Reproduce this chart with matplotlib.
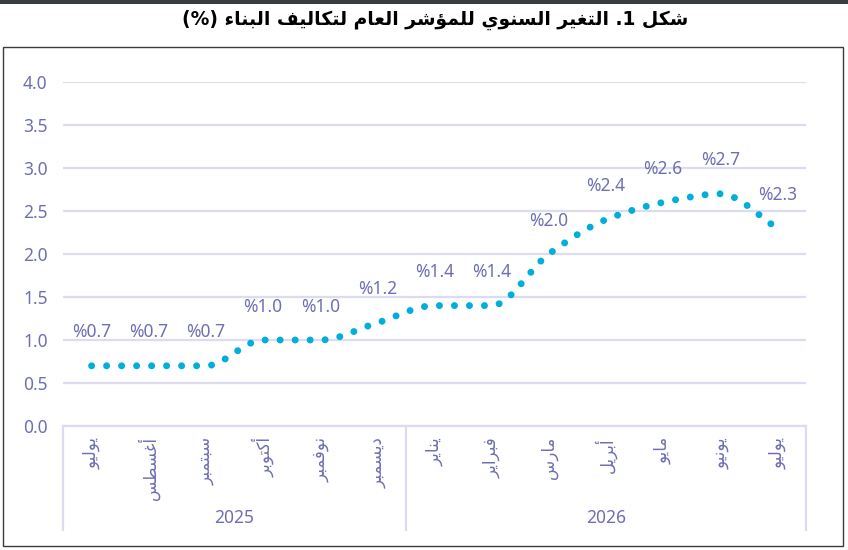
import matplotlib
matplotlib.use("Agg")
import matplotlib.pyplot as plt
from matplotlib.path import Path
from matplotlib.patches import PathPatch, Rectangle
from matplotlib.lines import Line2D

# data
months = ["يوليو", "أغسطس", "سبتمبر", "أكتوبر", "نوفمبر", "ديسمبر",
          "يناير", "فبراير", "مارس", "أبريل", "مايو", "يونيو", "يوليو"]
years = ["2025", "2026"]
year_counts = [6, 7]
values = [0.7, 0.7, 0.7, 1.0, 1.0, 1.2, 1.4, 1.4, 2.0, 2.4, 2.6, 2.7, 2.3]
yticks = [0.0, 0.5, 1.0, 1.5, 2.0, 2.5, 3.0, 3.5, 4.0]
title = "شكل 1. التغير السنوي للمؤشر العام لتكاليف البناء (%)"

LINE = "#00AEDB"
TXT = "#6E6EB5"
GRID = "#DCDCF0"
NUMFONT = ["Noto Sans", "DejaVu Sans"]

# matplotlib does no arabic shaping, so map letters to presentation forms
# (isolated, final, initial, medial) and flip to visual order
letters = "ءآأؤإئابةتثجحخدذرزسشصضطظعغفقكلمنهوىي"
counts = [1, 2, 2, 2, 2, 4, 2, 4, 2, 4, 4, 4, 4, 4, 2, 2, 2, 2, 4, 4,
          4, 4, 4, 4, 4, 4, 4, 4, 4, 4, 4, 4, 4, 2, 2, 4]
FORMS = {}
code = 0xFE80
for ch, k in zip(letters, counts):
    FORMS[ch] = [chr(code + j) for j in range(k)]
    code += k


def ar(text):
    out = []
    n = len(text)
    for i, c in enumerate(text):
        if c not in FORMS:
            out.append(c)
            continue
        f = FORMS[c]
        prev = text[i - 1] if i > 0 else ""
        nxt = text[i + 1] if i + 1 < n else ""
        jp = len(f) > 1 and prev in FORMS and len(FORMS[prev]) == 4
        jn = len(f) == 4 and nxt in FORMS and len(FORMS[nxt]) > 1
        if jp and jn:
            out.append(f[3])
        elif jp:
            out.append(f[1])
        elif jn:
            out.append(f[2])
        else:
            out.append(f[0])
    s = "".join(out)[::-1]
    return s.translate(str.maketrans("()", ")("))


fig = plt.figure(figsize=(8.48, 5.5), dpi=100)
ax = fig.add_axes([63 / 848, 1 - 426 / 550, 743 / 848, 344 / 550])

x = list(range(len(values)))
n = len(values)

# smoothed line through the points (monotone tangents, so flat runs stay flat)
sec = [values[i + 1] - values[i] for i in range(n - 1)]
tang = [sec[0]]
for i in range(1, n - 1):
    a, b = sec[i - 1], sec[i]
    tang.append(0.0 if a * b <= 0 else 2 * a * b / (a + b))
tang.append(sec[-1])

verts = [(x[0], values[0])]
codes = [Path.MOVETO]
for i in range(n - 1):
    verts += [(x[i] + 1 / 3, values[i] + tang[i] / 3),
              (x[i + 1] - 1 / 3, values[i + 1] - tang[i + 1] / 3),
              (x[i + 1], values[i + 1])]
    codes += [Path.CURVE4] * 3
curve = PathPatch(Path(verts, codes), fill=False, edgecolor=LINE, lw=5.0,
                  linestyle=(0, (0.01, 2.15)), capstyle="round", zorder=3)
ax.add_patch(curve)

for xi, v in zip(x, values):
    ax.annotate("%" + f"{v:.1f}", (xi, v), xytext=(0, 24),
                textcoords="offset points", ha="center", va="center",
                fontsize=12.5, color=TXT, family=NUMFONT)

ax.set_xlim(-0.5, n - 0.5)
ax.set_ylim(0, 4.0)
ax.set_yticks(yticks)
ax.set_yticklabels([f"{t:.1f}" for t in yticks], fontsize=12.5, color=TXT,
                   family=NUMFONT)
ax.tick_params(axis="y", length=0, pad=11)
ax.set_xticks([])
for s in ax.spines.values():
    s.set_visible(False)
ax.grid(axis="y", color=GRID, lw=1.6)
ax.set_axisbelow(True)
ax.axhline(0, color=GRID, lw=1.6, clip_on=False)

# month labels
for xi, m in zip(x, months):
    ax.text(xi, -0.032, ar(m), transform=ax.get_xaxis_transform(),
            rotation=90, ha="center", va="top", fontsize=12, color=TXT,
            family="DejaVu Sans")

# year groups and separators
start = -0.5
bounds = [start]
for yr, c in zip(years, year_counts):
    ax.text(start + c / 2, -0.267, yr, transform=ax.get_xaxis_transform(),
            ha="center", va="center", fontsize=12.5, color=TXT,
            family=NUMFONT)
    start += c
    bounds.append(start)
for b in bounds:
    ax.add_line(Line2D([b, b], [0, -0.302], transform=ax.get_xaxis_transform(),
                       color=GRID, lw=1.6, clip_on=False))

fig.text(0.513, 0.963, ar(title), ha="center", va="center", fontsize=13.5,
         fontweight="bold", color="black", family="DejaVu Sans")

# outer frame and top bar
fig.patches.append(Rectangle((3 / 848, 1 - 546 / 550), 840 / 848, 499 / 550,
                             transform=fig.transFigure, fill=False,
                             edgecolor="#3C3C3C", lw=1))
fig.patches.append(Rectangle((0, 1 - 4 / 550), 1, 4 / 550,
                             transform=fig.transFigure, color="#3A3D40", lw=0))

fig.savefig("out.png", dpi=100)
